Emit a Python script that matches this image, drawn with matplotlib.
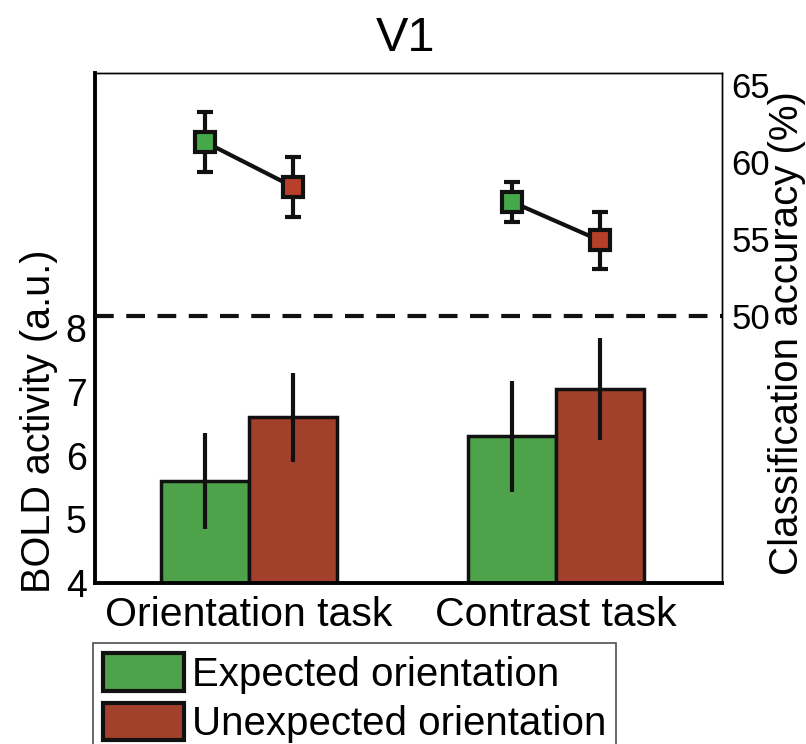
import matplotlib
matplotlib.use("Agg")
import matplotlib.pyplot as plt
from matplotlib.patches import Patch

plt.rcParams['font.family'] = ['Liberation Sans', 'DejaVu Sans']

# ----------------------------
# Data
# ----------------------------
tasks = ["Orientation task", "Contrast task"]
conditions = ["Expected orientation", "Unexpected orientation"]

# BOLD activity (a.u.), mean and error per task
bold_expected = [5.6, 6.3]
bold_expected_err = [0.76, 0.87]
bold_unexpected = [6.6, 7.05]
bold_unexpected_err = [0.7, 0.8]

# classification accuracy (%), mean and error per task
acc_expected = [61.3, 57.4]
acc_expected_err = [1.95, 1.3]
acc_unexpected = [58.4, 54.9]
acc_unexpected_err = [1.95, 1.85]

chance_level = 50

green = '#4ea24a'
red = '#a3402b'

# ----------------------------
# Figure
# ----------------------------
fig = plt.figure(figsize=(8.06, 7.44), dpi=100)
ax = fig.add_axes([95/806, 1 - 583/744, 627/806, 510/744])
ax2 = ax.twinx()

width = 0.286
xs = [1, 2]
x_exp = [x - width/2 for x in xs]
x_unexp = [x + width/2 for x in xs]

# BOLD bars (left axis)
ax.bar(x_exp, bold_expected, width, bottom=0, color=green, edgecolor='#111111', linewidth=2.5, zorder=2)
ax.bar(x_unexp, bold_unexpected, width, bottom=0, color=red, edgecolor='#111111', linewidth=2.5, zorder=2)
ax.errorbar(x_exp, bold_expected, yerr=bold_expected_err, fmt='none', ecolor='#111111', elinewidth=3, capsize=0, zorder=3)
ax.errorbar(x_unexp, bold_unexpected, yerr=bold_unexpected_err, fmt='none', ecolor='#111111', elinewidth=3, capsize=0, zorder=3)

ax.set_xlim(0.5, 2.54)
ax.set_ylim(4, 12)
ax.set_yticks([4, 5, 6, 7, 8])
ax.set_xticks(xs)
ax.set_xticklabels(tasks, fontsize=29.5)
ax.tick_params(axis='x', length=0, pad=9)
ax.tick_params(axis='y', length=0, labelsize=27, pad=6)
ax.set_ylabel("BOLD activity (a.u.)", fontsize=28.5, va='center')
ax.yaxis.set_label_coords(-0.089, 0.317)

for side in ['left', 'bottom']:
    ax.spines[side].set_linewidth(2.8)
for side in ['top', 'right']:
    ax.spines[side].set_linewidth(1.0)
    ax2.spines[side].set_linewidth(1.0)
ax2.spines['left'].set_visible(False)
ax2.spines['bottom'].set_visible(False)

# accuracy markers (right axis), joined within each task
for i in range(len(tasks)):
    ax2.plot([x_exp[i], x_unexp[i]], [acc_expected[i], acc_unexpected[i]], color='#111111', lw=3, zorder=3)
ax2.errorbar(x_exp, acc_expected, yerr=acc_expected_err, fmt='s', ms=14, mfc='#45a84a', mec='#111111', mew=3,
             ecolor='#111111', elinewidth=3, capsize=6, capthick=3, zorder=4)
ax2.errorbar(x_unexp, acc_unexpected, yerr=acc_unexpected_err, fmt='s', ms=14, mfc='#b8402b', mec='#111111', mew=3,
             ecolor='#111111', elinewidth=3, capsize=6, capthick=3, zorder=4)
ax2.axhline(chance_level, color='#111111', lw=3, ls=(0, (4.5, 3)), zorder=1)

ax2.set_ylim(32.67, 65.77)
ax2.set_yticks([50, 55, 60, 65])
ax2.tick_params(axis='y', length=0, labelsize=25, pad=7)
ax2.set_ylabel("Classification accuracy (%)", fontsize=29, va='center')
ax2.yaxis.set_label_coords(1.103, 0.49)

fig.text(0.503, 1 - 51/744, "V1", fontsize=35, ha='center', va='baseline')

handles = [Patch(facecolor=green, edgecolor='#111111', linewidth=3),
           Patch(facecolor=red, edgecolor='#111111', linewidth=3)]
leg = fig.legend(handles, conditions, loc='upper left', bbox_to_anchor=(93/806, 1 - 643/744),
                 fontsize=29, frameon=True, fancybox=False, edgecolor='#222222',
                 handlelength=2.0, handleheight=1.07, handletextpad=0.2, borderpad=0.25,
                 labelspacing=0.22, borderaxespad=0)
leg.get_frame().set_linewidth(1.2)

fig.savefig("out.png", dpi=100)
